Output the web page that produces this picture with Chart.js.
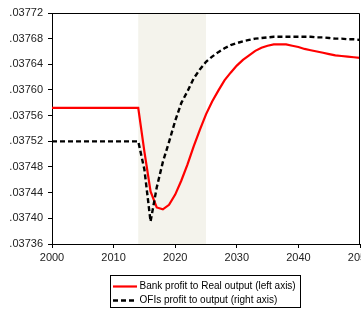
<!DOCTYPE html>
<html>
<head>
<meta charset="utf-8">
<script src="https://cdn.jsdelivr.net/npm/chart.js@4"></script>
<style>
  html, body { margin: 0; padding: 0; background: #fff; }
  #wrap { width: 361px; height: 311px; }
</style>
</head>
<body>
<div id="wrap"><canvas id="chart" width="361" height="311"></canvas></div>
<script>
var years = [2000,2001,2002,2003,2004,2005,2006,2007,2008,2009,
             2010,2011,2012,2013,2014,2015,2016,2017,2018,2019,
             2020,2021,2022,2023,2024,2025,2026,2027,2028,2029,
             2030,2031,2032,2033,2034,2035,2036,2037,2038,2039,
             2040,2041,2042,2043,2044,2045,2046,2047,2048,2049,2050];

// Bank profit to Real output (left axis)
var bankProfit = [0.037572,0.037572,0.037572,0.037572,0.037572,0.037572,0.037572,0.037572,0.037572,0.037572,
                  0.037572,0.037572,0.037572,0.037572,0.037572,0.037504,0.037442,0.037417,0.037414,0.037421,
                  0.037437,0.037459,0.037484,0.037512,0.037538,0.037562,0.037582,0.037599,0.037615,0.037627,
                  0.037638,0.037647,0.037654,0.037661,0.037666,0.037669,0.037671,0.037671,0.037671,0.037669,
                  0.037667,0.037664,0.037662,0.037660,0.037658,0.037656,0.037654,0.037653,0.037652,0.037651,0.037650];

// OFIs profit to output (right axis, cut off in the picture)
var ofiProfit = [0.037520,0.037520,0.037520,0.037520,0.037520,0.037520,0.037520,0.037520,0.037520,0.037520,
                 0.037520,0.037520,0.037520,0.037520,0.037520,0.037476,0.037395,0.037448,0.037488,0.037519,
                 0.037552,0.037580,0.037598,0.037618,0.037632,0.037644,0.037652,0.037659,0.037665,0.037670,
                 0.037673,0.037676,0.037678,0.037680,0.037681,0.037682,0.037683,0.037683,0.037683,0.037683,
                 0.037683,0.037683,0.037683,0.037682,0.037682,0.037681,0.037680,0.037680,0.037679,0.037679,0.037678];

var yTicks = [0.03736,0.03740,0.03744,0.03748,0.03752,0.03756,0.03760,0.03764,0.03768,0.03772];
var xTicks = [2000,2010,2020,2030,2040,2050];
var shadeFrom = 2014, shadeTo = 2025;

var FONT = "'Liberation Sans', Arial, sans-serif";

function pts(vals) {
  return years.map(function (y, i) { return { x: y, y: vals[i] }; });
}

var decor = {
  id: 'decor',
  beforeDatasetsDraw: function (chart) {
    var c = chart.ctx, a = chart.chartArea, x = chart.scales.x;
    var x0 = x.getPixelForValue(shadeFrom), x1 = x.getPixelForValue(shadeTo);
    c.save();
    c.fillStyle = '#f4f3ec';
    c.fillRect(x0, a.top, x1 - x0, a.bottom - a.top);
    c.restore();
  },
  afterDraw: function (chart) {
    var c = chart.ctx, a = chart.chartArea;
    c.save();
    c.strokeStyle = '#000';
    c.lineWidth = 1;
    c.beginPath();
    c.moveTo(a.left, a.top + 0.5);
    c.lineTo(a.right - 0.5, a.top + 0.5);
    c.lineTo(a.right - 0.5, a.bottom);
    c.stroke();

    // legend box
    c.strokeRect(110.5, 275.5, 190, 32);
    var rows = [286.5, 300.5];
    c.font = '10px ' + FONT;
    c.textBaseline = 'middle';
    c.fillStyle = '#000';
    chart.data.datasets.forEach(function (d, i) {
      c.beginPath();
      c.strokeStyle = d.borderColor;
      c.lineWidth = d.borderWidth;
      c.setLineDash(d.borderDash || []);
      c.moveTo(113, rows[i]);
      c.lineTo(137, rows[i]);
      c.stroke();
      c.setLineDash([]);
      c.fillText(d.label, 139.5, rows[i]);
    });
    c.restore();
  }
};

new Chart(document.getElementById('chart'), {
  type: 'line',
  data: {
    datasets: [{
      label: 'Bank profit to Real output (left axis)',
      data: pts(bankProfit),
      borderColor: '#ff0000',
      borderWidth: 2.2,
      pointRadius: 0,
      tension: 0,
      yAxisID: 'y',
      order: 1
    }, {
      label: 'OFIs profit to output (right axis)',
      data: pts(ofiProfit),
      borderColor: '#000000',
      borderWidth: 2.4,
      borderDash: [5, 3],
      pointRadius: 0,
      tension: 0,
      yAxisID: 'y1',
      order: 0
    }]
  },
  options: {
    responsive: false,
    animation: false,
    layout: { padding: { top: 13, right: 1, left: 0, bottom: 0 } },
    plugins: { legend: { display: false }, tooltip: { enabled: false } },
    scales: {
      x: {
        type: 'linear',
        min: 2000, max: 2050,
        afterBuildTicks: function (s) { s.ticks = xTicks.map(function (v) { return { value: v }; }); },
        afterFit: function (s) { s.height = 67; s.paddingLeft = 0; s.paddingRight = 0; },
        grid: { drawOnChartArea: false, drawTicks: true, tickLength: 4, tickColor: '#000' },
        border: { display: true, color: '#000', width: 1 },
        ticks: {
          padding: 3, maxRotation: 0, autoSkip: false,
          color: '#222', font: { family: FONT, size: 11 },
          callback: function (v) { return String(v); }
        }
      },
      y: {
        position: 'left',
        min: 0.03736, max: 0.03772,
        afterBuildTicks: function (s) { s.ticks = yTicks.map(function (v) { return { value: v }; }); },
        afterFit: function (s) { s.width = 52; },
        grid: { drawOnChartArea: false, drawTicks: true, tickLength: 4, tickColor: '#000' },
        border: { display: true, color: '#000', width: 1 },
        ticks: {
          padding: 5, autoSkip: false,
          color: '#222', font: { family: FONT, size: 11 },
          callback: function (v) { return v.toFixed(5).replace(/^0/, ''); }
        }
      },
      y1: {
        position: 'right',
        display: false,
        min: 0.03736, max: 0.03772
      }
    }
  },
  plugins: [decor]
});
</script>
</body>
</html>
